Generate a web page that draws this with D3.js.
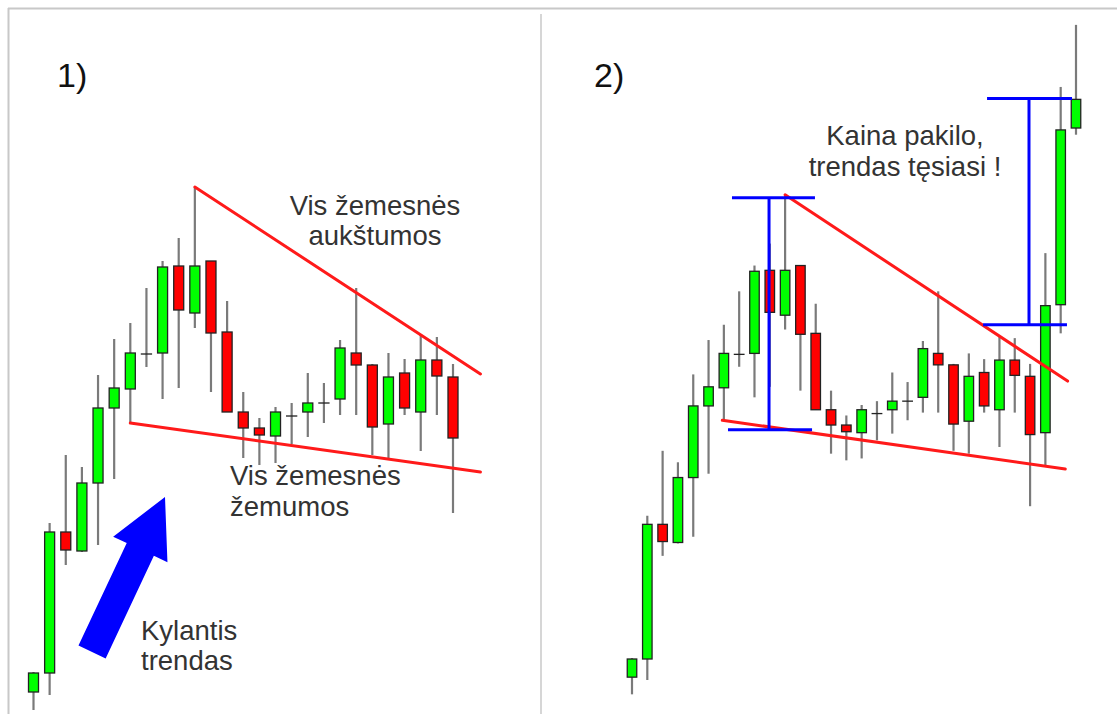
<!DOCTYPE html>
<html>
<head>
<meta charset="utf-8">
<script src="https://cdn.jsdelivr.net/npm/d3@7"></script>
<style>
html,body{margin:0;padding:0;background:#fff;}
svg{display:block;}
text{font-family:"Liberation Sans",Arial,sans-serif;}
</style>
</head>
<body>
<svg id="chart" width="1117" height="714"></svg>
<script>
// ---- Data (price units; candle index = time) ----
const opens  = [28,47,188,169,237,312,331,366,367,454,407,459,388,308,292,284,304,308,317,321,367,355,296,347,308,360,343,284,418,603];
const highs  = [48,197,265,253,345,381,397,432,459,482,533,459,419,328,302,313,317,347,337,380,432,356,367,361,385,383,356,472,646,711];
const lows   = [10,25,155,168,175,241,297,353,321,332,392,328,308,262,255,257,276,283,297,305,305,265,262,305,269,305,207,250,388,596];
const closes = [47,188,170,237,312,332,367,366,453,410,454,387,308,292,285,308,304,317,317,372,355,293,343,312,360,344,282,417,601,633];

const leftCount = 27;   // candles shown in panel 1
const rightCount = 30;  // candles shown in panel 2

// trend lines [index, price]
const upperLeft  = [[10,533],[27.7,346]];
const lowerLeft  = [[6,297],[27.7,248]];
const upperRight = [[10,533],[28.45,338]];
const lowerRight = [[5.9,297],[28.3,246]];

// measured moves (panel 2): [index, top price, bottom price, topCapFrom, topCapTo, botCapFrom, botCapTo]
const measures = [
  [8.95, 530, 287, 6.53, 11.95, 6.27, 11.76],
  [25.93, 634, 397, 23.19, 28.74, 22.93, 28.41]
];

// arrow (panel 1): tail and tip [index, price]
const arrowTail = [3.63, 68];
const arrowTip  = [8.15, 223];

const labelsTopLeft   = ["Vis žemesnės", "aukštumos"];
const labelsBotLeft   = ["Vis žemesnės", "žemumos"];
const labelsTrend     = ["Kylantis", "trendas"];
const labelsRight     = ["Kaina pakilo,", "trendas tęsiasi !"];
const panelTitles     = ["1)", "2)"];

const candles = opens.map((o,i)=>({i, o, h:highs[i], l:lows[i], c:closes[i]}));

const svg = d3.select("#chart");

// frame
svg.append("line").attr("x1",8).attr("x2",1117).attr("y1",8.5).attr("y2",8.5).attr("stroke","#c8c8c8").attr("stroke-width",2);
svg.append("line").attr("x1",8.5).attr("x2",8.5).attr("y1",8).attr("y2",714).attr("stroke","#c8c8c8").attr("stroke-width",2);
svg.append("line").attr("x1",541).attr("x2",541).attr("y1",14).attr("y2",714).attr("stroke","#c8c8c8").attr("stroke-width",1.5);

const GREEN = "#00ff00", RED = "#ff0000", WICK = "#7a7a7a", EDGE = "#222", BLUE = "#0000ff", TXT = "#333";

function drawPanel(g, data, x, y, bodyW){
  const c = g.append("g").selectAll("g").data(data).join("g");
  c.append("line")
    .attr("x1",d=>x(d.i)).attr("x2",d=>x(d.i))
    .attr("y1",d=>y(d.h)).attr("y2",d=>y(d.l))
    .attr("stroke",WICK).attr("stroke-width",2.2);
  c.append("rect")
    .attr("x",d=>x(d.i)-bodyW/2)
    .attr("width",bodyW)
    .attr("y",d=>y(Math.max(d.o,d.c)))
    .attr("height",d=>Math.max(0.01, Math.abs(y(d.o)-y(d.c))))
    .attr("fill",d=>d.c>d.o?GREEN:(d.c<d.o?RED:EDGE))
    .attr("stroke",EDGE).attr("stroke-width",1.3);
}

function trend(g, pts, x, y){
  g.append("line")
    .attr("x1",x(pts[0][0])).attr("y1",y(pts[0][1]))
    .attr("x2",x(pts[1][0])).attr("y2",y(pts[1][1]))
    .attr("stroke","#ff1a1a").attr("stroke-width",3).attr("stroke-linecap","round");
}

// ---- Panel 1 ----
const xL = d3.scaleLinear().domain([0,26]).range([33.5,453]);
const yL = d3.scaleLinear().domain([0,720]).range([720,0]);
const g1 = svg.append("g");
drawPanel(g1, candles.slice(0,leftCount), xL, yL, 10);
trend(g1, upperLeft, xL, yL);
trend(g1, lowerLeft, xL, yL);

// arrow
(function(){
  const tx=xL(arrowTail[0]), ty=yL(arrowTail[1]);
  const px=xL(arrowTip[0]),  py=yL(arrowTip[1]);
  const dx=px-tx, dy=py-ty, len=Math.hypot(dx,dy);
  const ux=dx/len, uy=dy/len, nx=-uy, ny=ux;
  const shaftW=30, headW=60, headL=58;
  const bx=px-ux*headL, by=py-uy*headL;
  const pts=[
    [tx+nx*shaftW/2, ty+ny*shaftW/2],
    [bx+nx*shaftW/2, by+ny*shaftW/2],
    [bx+nx*headW/2, by+ny*headW/2],
    [px,py],
    [bx-nx*headW/2, by-ny*headW/2],
    [bx-nx*shaftW/2, by-ny*shaftW/2],
    [tx-nx*shaftW/2, ty-ny*shaftW/2]
  ];
  g1.append("path").attr("d",d3.line()(pts)+"Z").attr("fill",BLUE);
})();

// ---- Panel 2 ----
const xR = d3.scaleLinear().domain([0,29]).range([632,1076]);
const yR = d3.scaleLinear().domain([47,720]).range([659,659-673*0.955]);
const g2 = svg.append("g");
drawPanel(g2, candles.slice(0,rightCount), xR, yR, 9.5);
trend(g2, upperRight, xR, yR);
trend(g2, lowerRight, xR, yR);
measures.forEach(m=>{
  const [ix, top, bot, t0, t1, b0, b1] = m;
  g2.append("line").attr("x1",xR(ix)).attr("x2",xR(ix)).attr("y1",yR(top)).attr("y2",yR(bot)).attr("stroke",BLUE).attr("stroke-width",3);
  g2.append("line").attr("x1",xR(t0)).attr("x2",xR(t1)).attr("y1",yR(top)).attr("y2",yR(top)).attr("stroke",BLUE).attr("stroke-width",3);
  g2.append("line").attr("x1",xR(b0)).attr("x2",xR(b1)).attr("y1",yR(bot)).attr("y2",yR(bot)).attr("stroke",BLUE).attr("stroke-width",3);
});

// ---- Text ----
const fs = 27.5;
function lines(arr, x, y0, dy, anchor){
  arr.forEach((t,k)=>{
    svg.append("text").attr("x",x).attr("y",y0+k*dy)
      .attr("text-anchor",anchor).attr("font-size",fs).attr("fill",TXT).text(t);
  });
}
lines(labelsTopLeft, 375, 215, 30, "middle");
lines(labelsBotLeft, 230, 485, 31, "start");
lines(labelsTrend, 141, 640, 30, "start");
lines(labelsRight, 905, 145, 31, "middle");

svg.append("text").attr("x",57).attr("y",87).attr("font-family","Open Sans, sans-serif").attr("font-size",34).attr("fill","#111").text(panelTitles[0]);
svg.append("text").attr("x",594).attr("y",87).attr("font-family","Open Sans, sans-serif").attr("font-size",34).attr("fill","#111").text(panelTitles[1]);
</script>
</body>
</html>
